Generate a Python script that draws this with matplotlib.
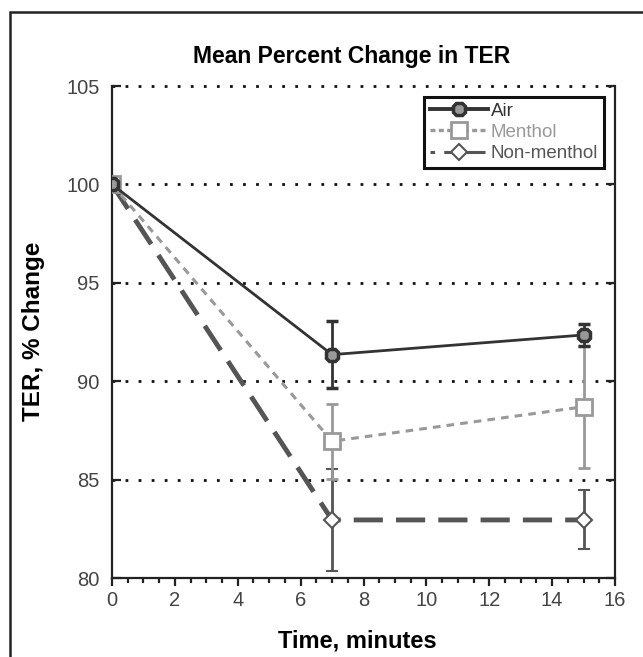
import matplotlib
matplotlib.use("Agg")
import matplotlib.pyplot as plt
from matplotlib.patches import Rectangle
from matplotlib.lines import Line2D
from matplotlib.ticker import MultipleLocator

plt.rcParams['font.family'] = ['Liberation Sans', 'DejaVu Sans']

time = [0, 7, 15]
air = [100, 91.35, 92.35]
air_err = [0, 1.7, 0.55]
menthol = [100, 86.95, 88.7]
menthol_err = [0, 1.9, 3.1]
nonmenthol = [100, 82.95, 82.95]
nonmenthol_err = [0, 2.6, 1.5]
yticks = [80, 85, 90, 95, 100, 105]
xticks = [0, 2, 4, 6, 8, 10, 12, 14, 16]
labels = ['Air', 'Menthol', 'Non-menthol']

fig = plt.figure(figsize=(6.43, 6.57), dpi=100)
W, H = 643, 657
ax = fig.add_axes([112 / W, 1 - 578 / H, (615 - 112) / W, (578 - 86) / H])

# outer frame
fig.add_artist(Rectangle((10 / W, -0.1), 1.2, 1 - 12 / H + 0.1, transform=fig.transFigure,
                         fill=False, lw=1.8, ec='#222222', clip_on=False))

# gridlines
for y in yticks[1:]:
    ax.axhline(y, color='#111111', lw=2.0, ls=(0, (1, 3.7)), clip_on=False, zorder=1)

c_air, c_men, c_non = '#333333', '#999999', '#555555'

ax.errorbar(time, nonmenthol, yerr=nonmenthol_err, color=c_non, lw=3.5,
            ls=(0, (6, 2.7)), dash_capstyle='butt', marker='D', ms=8, mfc='white',
            mec=c_non, mew=1.5, ecolor=c_non, elinewidth=2, capsize=4, capthick=2,
            zorder=3)
ax.errorbar(time, menthol, yerr=menthol_err, color=c_men, lw=2.2,
            ls=(0, (2.5, 2)), marker='s', ms=11, mfc='white', mec=c_men, mew=2,
            ecolor=c_men, elinewidth=2, capsize=4, capthick=2, zorder=4)
ax.errorbar(time, air, yerr=air_err, color=c_air, lw=2.0, ls='-', marker='8', ms=10,
            mfc='#999999', mec=c_air, mew=2.5, ecolor=c_air, elinewidth=2, capsize=4,
            capthick=2, zorder=5)

ax.set_xlim(0, 16)
ax.set_ylim(80, 105)
ax.set_xticks(xticks)
ax.set_yticks(yticks)
ax.xaxis.set_minor_locator(MultipleLocator(0.5))

for s in ['left', 'bottom', 'right']:
    ax.spines[s].set_linewidth(1.6)
    ax.spines[s].set_color('#222222')
ax.spines['top'].set_visible(False)

ax.tick_params(axis='x', which='major', direction='out', length=5.5, width=1.6,
               labelsize=14.5, pad=4, colors='#222222', labelcolor='#444444')
ax.tick_params(axis='x', which='minor', direction='out', length=3.5, width=1.6, colors='#222222')
ax.tick_params(axis='y', which='major', direction='in', length=6.5, width=1.6,
               left=True, right=True, labelsize=14.5, pad=9, colors='#222222',
               labelcolor='#444444')

fig.text(352 / W, 1 - 57 / H, 'Mean Percent Change in TER', ha='center', va='center',
         fontsize=16.5, fontweight='bold')
fig.text(357 / W, 1 - 641 / H, 'Time, minutes', ha='center', va='center',
         fontsize=17, fontweight='bold')
fig.text(34 / W, 1 - 331 / H, 'TER, % Change', ha='center', va='center',
         rotation=90, fontsize=17.5, fontweight='bold')

h_air = Line2D([], [], color=c_air, lw=2.8, marker='8', ms=10, mfc='#999999', mec=c_air, mew=2.5)
h_men = Line2D([], [], color=c_men, lw=2.4, ls=(0, (1.5, 1)), marker='s', ms=11, mfc='white',
               mec=c_men, mew=2)
h_non = Line2D([], [], color=c_non, lw=2.2, ls=(0, (1.5, 3, 12, 0)), marker='D', ms=8,
               mfc='white', mec=c_non, mew=1.5)
leg = ax.legend([h_air, h_men, h_non], labels,
                loc='upper right', bbox_to_anchor=(0.978, 0.978), borderaxespad=0,
                fontsize=13.5, handlelength=3.1, labelspacing=0.22, handletextpad=0.15,
                borderpad=0.3, fancybox=False, framealpha=1, edgecolor='#111111')
leg.get_frame().set_linewidth(2.2)
for t, c in zip(leg.get_texts(), [c_air, c_men, c_non]):
    t.set_color(c)

fig.savefig('out.png', dpi=100)
